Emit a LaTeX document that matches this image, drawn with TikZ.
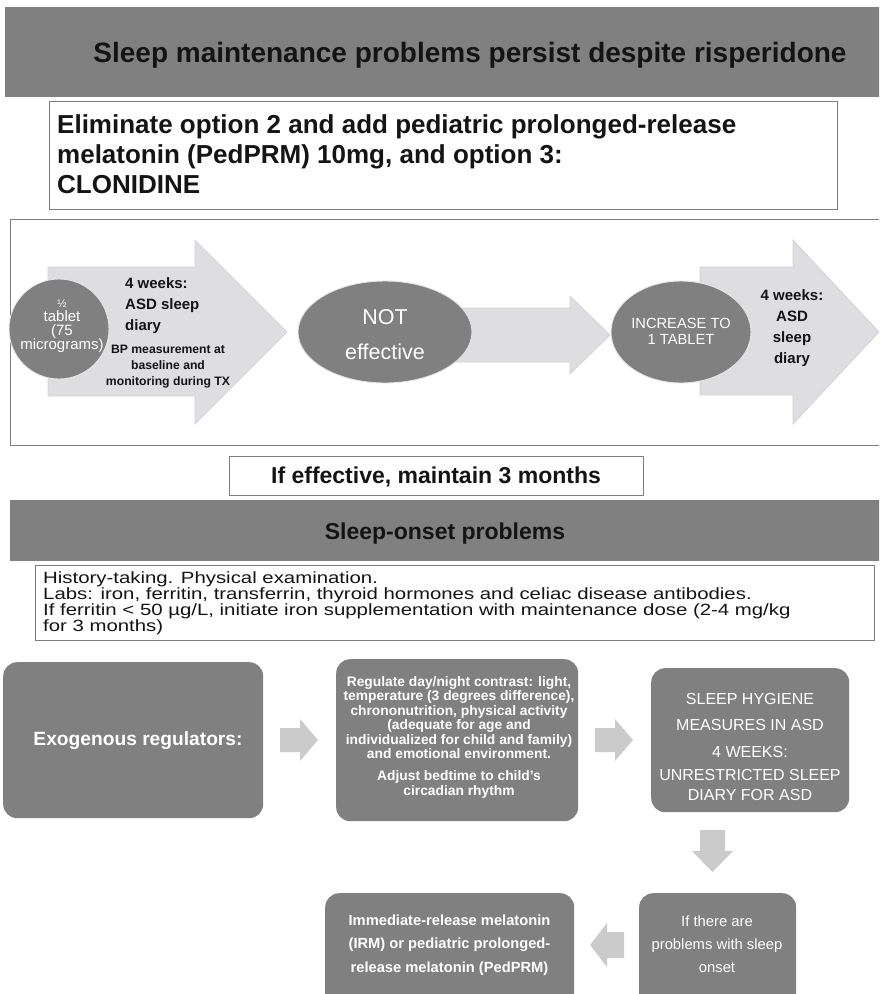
\documentclass[tikz,border=0pt]{standalone}
\usepackage{fontspec}
\setmainfont{Liberation Sans}
\newfontfamily\widefont[FakeStretch=1.25]{Liberation Sans}
\usetikzlibrary{shapes.geometric}
\definecolor{dgrey}{RGB}{128,128,128}
\definecolor{bordergrey}{RGB}{125,125,125}
\definecolor{arrowfill}{RGB}{222,222,224}
\definecolor{arrowedge}{RGB}{205,211,228}
\definecolor{smallarrow}{RGB}{203,203,203}
\definecolor{darktext}{RGB}{20,20,20}
\begin{document}
\begin{tikzpicture}[x=1pt,y=-1pt,
  banner/.style={fill=dgrey, draw=none, inner sep=0, anchor=north west},
  wbox/.style={draw=bordergrey, line width=0.9pt, fill=white, inner sep=0, anchor=north west},
  dbox/.style={fill=dgrey, draw=none, rounded corners=14pt, inner sep=0, anchor=north west},
  bigarrow/.style={fill=arrowfill, draw=arrowedge, line width=0.7pt},
  smallarr/.style={fill=smallarrow, draw=none},
  oval/.style={ellipse, fill=dgrey, draw=white!80!dgrey, line width=0.9pt, inner sep=0},
  dcircle/.style={circle, fill=dgrey, draw=white!80!dgrey, line width=0.9pt, inner sep=0},
  wtxt/.style={text=white, inner sep=0, align=center},
  ktxt/.style={text=darktext, inner sep=0},
]
\useasboundingbox (0,0) rectangle (879,994);
\clip (0,0) rectangle (879,994);

% top banner
\node[banner, minimum width=880pt, minimum height=90pt] (ban1) at (5,7) {};
\node[ktxt, font=\bfseries\fontsize{28}{30}\selectfont] (title1) at (470,55) {Sleep maintenance problems persist despite risperidone};

% option box
\node[wbox, minimum width=788pt, minimum height=108pt] (box2) at (49,101) {};
\node[ktxt, anchor=north west, align=left, font=\bfseries\fontsize{26}{30}\selectfont] (opt) at (57,114) {Eliminate option 2 and add pediatric prolonged-release\\melatonin (PedPRM) 10mg, and option 3:\\CLONIDINE};

% frame
\node[wbox, minimum width=880pt, minimum height=226pt] (frame) at (10,219) {};

% arrow 1 and dose circle
\path[bigarrow] (48,267) -- (195,267) -- (195,240) -- (287,332) -- (195,424) -- (195,396) -- (48,396) -- cycle;
\node[dcircle, minimum size=100pt] (dose) at (59,329) {};
\node[wtxt, font=\fontsize{15}{14}\selectfont] (doseT) at (62,326) {{\fontsize{11}{11}\selectfont ½}\\tablet\\(75\\micrograms)};
\node[ktxt, anchor=north west, align=left, font=\bfseries\fontsize{15}{21}\selectfont] (wk1) at (125,277) {4 weeks:\\ASD sleep\\diary};
\node[ktxt, align=center, font=\bfseries\fontsize{12.2}{16}\selectfont] (bp) at (168,367) {BP measurement at\\baseline and\\monitoring during TX};

% arrow 2 and NOT effective
\path[bigarrow] (440,308) -- (570,308) -- (570,296) -- (610,335) -- (570,374) -- (570,362) -- (440,362) -- cycle;
\node[oval, minimum width=174pt, minimum height=102pt] (noteff) at (385,332) {};
\node[wtxt, font=\fontsize{21.5}{35}\selectfont] (noteffT) at (385,335) {NOT\\effective};

% arrow 3 and increase
\path[bigarrow] (700,267) -- (793,267) -- (793,240) -- (879,332) -- (793,424) -- (793,395) -- (700,395) -- cycle;
\node[oval, minimum width=140pt, minimum height=102pt] (incr) at (681,332) {};
\node[wtxt, font=\fontsize{14.7}{16}\selectfont] (incrT) at (681,331) {INCREASE TO\\1 TABLET};
\node[ktxt, align=center, font=\bfseries\fontsize{15}{21}\selectfont] (wk2) at (792,328) {4 weeks:\\ASD\\sleep\\diary};

% maintain box
\node[wbox, minimum width=414pt, minimum height=39pt] (maint) at (229,456) {};
\node[ktxt, font=\bfseries\fontsize{23}{25}\selectfont] (maintT) at (436,477) {If effective, maintain 3 months};

% second banner
\node[banner, minimum width=880pt, minimum height=61pt] (ban2) at (10,500) {};
\node[ktxt, font=\bfseries\fontsize{23}{25}\selectfont] (onsetT) at (445,534) {Sleep-onset problems};

% history box
\node[wbox, minimum width=839pt, minimum height=75pt] (hist) at (35,565) {};
\node[ktxt, anchor=north west, align=left, font=\widefont\fontsize{16.3}{16.3}\selectfont] (histT) at (43,571) {History-taking. Physical examination.\\Labs: iron, ferritin, transferrin, thyroid hormones and celiac disease antibodies.\\If ferritin < 50 µg/L, initiate iron supplementation with maintenance dose (2-4 mg/kg\\for 3 months)};

% bottom flow
\node[dbox, minimum width=260pt, minimum height=156pt] (exo) at (3,662) {};
\node[wtxt, font=\bfseries\fontsize{19.2}{22}\selectfont] (exoT) at (138,741) {Exogenous regulators:};
\path[smallarr] (280,728) -- (300,728) -- (300,719) -- (318,740) -- (300,761) -- (300,752) -- (280,752) -- cycle;

\node[dbox, minimum width=242pt, minimum height=162pt] (reg) at (336,659) {};
\node[wtxt, font=\bfseries\fontsize{13.8}{14.5}\selectfont] (regT) at (459,737) {Regulate day/night contrast: light,\\temperature (3 degrees difference),\\chrononutrition, physical activity\\(adequate for age and\\individualized for child and family)\\and emotional environment.\\[7.5pt]Adjust bedtime to child’s\\circadian rhythm};
\path[smallarr] (595,728) -- (615,728) -- (615,719) -- (633,740) -- (615,761) -- (615,752) -- (595,752) -- cycle;

\node[dbox, minimum width=198pt, minimum height=144pt] (hyg) at (651,668) {};
\node[wtxt, font=\fontsize{16}{20}\selectfont] (hygT) at (750,747) {SLEEP HYGIENE\\[6pt]MEASURES IN ASD\\[7pt]4 WEEKS:\\[3pt]UNRESTRICTED SLEEP\\DIARY FOR ASD};

\path[smallarr] (700,830) -- (725,830) -- (725,851) -- (733,851) -- (712.5,872) -- (692,851) -- (700,851) -- cycle;

\node[dbox, minimum width=157pt, minimum height=130pt] (ifprob) at (639,893) {};
\node[wtxt, font=\fontsize{14.8}{23}\selectfont] (ifprobT) at (717,944) {If there are\\problems with sleep\\onset};
\path[smallarr] (624,932) -- (607,932) -- (607,923) -- (590,945) -- (607,967) -- (607,958) -- (624,958) -- cycle;

\node[dbox, minimum width=249pt, minimum height=130pt] (irm) at (325,893) {};
\node[wtxt, font=\bfseries\fontsize{14.7}{23.5}\selectfont] (irmT) at (449.5,945) {Immediate-release melatonin\\(IRM) or pediatric prolonged-\\release melatonin (PedPRM)};
\end{tikzpicture}
\end{document}
